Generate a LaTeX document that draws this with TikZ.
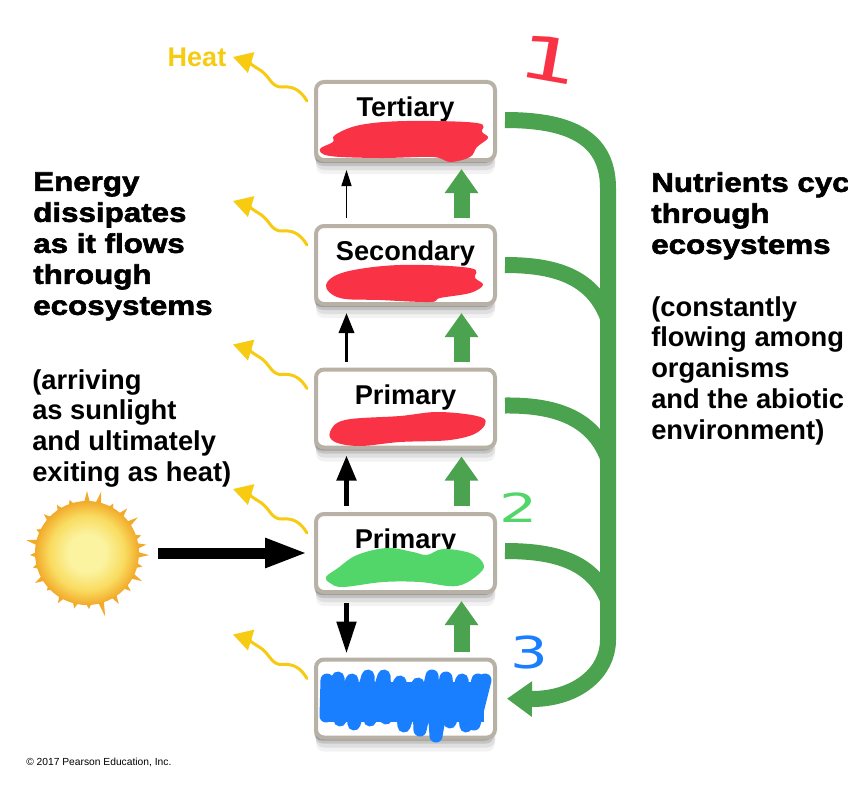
\documentclass[tikz,border=0pt]{standalone}
\usepackage{fontspec}
\setmainfont{Liberation Sans}
\newfontfamily\heavy[BoldFeatures={FakeStretch=1.16,FakeBold=2.2}]{Liberation Sans}
\newfontfamily\handfont{DejaVu Sans}
\usetikzlibrary{arrows.meta,shadows}
\newlength\unitpx
\setlength\unitpx{0.75pt}
\definecolor{boxline}{HTML}{B8B1A6}
\definecolor{nutrient}{HTML}{4BA34F}
\definecolor{heatcol}{HTML}{F6CB12}
\definecolor{redmark}{HTML}{FA3246}
\definecolor{greenmark}{HTML}{52D669}
\definecolor{bluemark}{HTML}{1A7FFF}
\definecolor{sunin}{HTML}{FBF3A0}
\definecolor{sunmid}{HTML}{F9DC60}
\definecolor{sunout}{HTML}{F2AA2A}
\pgfdeclareradialshading{sunshade}{\pgfpoint{0bp}{0bp}}{color(0bp)=(sunin);color(9bp)=(sunin);color(18bp)=(sunmid);color(25bp)=(sunout);color(50bp)=(sunout)}
\tikzset{
  box/.style={draw=boxline,fill=white,line width=4\unitpx,rounded corners=8\unitpx,
    minimum width=179\unitpx,inner sep=0pt,align=center,
    text height=34.5\unitpx,text depth=43.5\unitpx,
    font=\bfseries\fontsize{20.4}{24}\selectfont,
    drop shadow={shadow xshift=0pt,shadow yshift=-14\unitpx,fill=black,opacity=.05},
    drop shadow={shadow xshift=0pt,shadow yshift=-10\unitpx,fill=black,opacity=.08},
    drop shadow={shadow xshift=-1\unitpx,shadow yshift=-6\unitpx,fill=black,opacity=.12},
    drop shadow={shadow xshift=-2\unitpx,shadow yshift=-3\unitpx,fill=black,opacity=.2}},
  upgreen/.style={draw=nutrient,line width=16\unitpx,-{Triangle[length=18pt,width=24pt]},shorten <=6\unitpx,shorten >=7\unitpx},
  bus/.style={draw=nutrient,line width=16\unitpx},
  heatpath/.style={draw=heatcol,line width=3\unitpx,line cap=round,-{Triangle[length=14.25pt,width=15.75pt]}},
  blackbig/.style={draw=black,line width=5\unitpx,shorten <=6\unitpx,shorten >=6\unitpx},
  titletext/.style={anchor=north west,align=left,inner sep=0pt,font=\heavy\bfseries\fontsize{20.25}{23.25}\selectfont},
  subtext/.style={anchor=north west,align=left,inner sep=0pt,font=\bfseries\fontsize{20.5}{23.1}\selectfont},
  handnum/.style={font=\handfont\fontsize{#1}{#1}\selectfont,inner sep=0pt}
}
\begin{document}
\begin{tikzpicture}[x=\unitpx,y=-\unitpx]
\useasboundingbox (0,0) rectangle (860,799);
\fill[white] (0,0) rectangle (860,799);
\coordinate (joinA) at (608,318);
\coordinate (joinB) at (608,458);
\coordinate (joinC) at (608,600);
\node[box] (ter) at (405.5,121) {Tertiary};
\node[box] (sec) at (405.5,265) {Secondary};
\node[box] (pri) at (405.5,408.5) {Primary};
\node[box] (pro) at (405.5,553) {Primary};
\node[box] (bot) at (405.5,698.5) {};
% scribbles
\fill[redmark] plot[smooth cycle,tension=.6] coordinates {(320,149)(333,142)(335,135)(360,125)(407,121)(477,123)(482,132)(488,138)(477,147)(470,157)(450,162)(433,157)(380,158)(330,156)};
\fill[redmark] plot[smooth cycle,tension=.6] coordinates {(326,285)(345,272)(400,265)(470,268)(475,278)(483,285)(470,293)(440,298)(430,302)(380,300)(340,298)};
\fill[redmark] plot[smooth cycle,tension=.6] coordinates {(330,432)(345,420)(400,416)(440,412)(483,418)(478,432)(450,440)(400,442)(360,446)(335,442)};
\fill[greenmark] plot[smooth cycle,tension=.6] coordinates {(326,577)(338,568)(357,555)(387,548)(413,552)(427,555)(443,549)(470,553)(483,563)(480,573)(457,586)(420,582)(383,582)(343,587)(330,583)};
\fill[bluemark] (328,682) rectangle (484,722);
\draw[bluemark,line width=13\unitpx,line cap=round,line join=round]
  (327,680)--(326,716)--(338,678)--(340,720)--(352,680)--(354,724)--(368,676)--(370,720)--(384,676)--(386,718)--(400,682)--(404,726)--(418,684)--(420,730)--(432,676)--(436,736)--(446,678)--(450,722)--(462,680)--(466,726)--(478,680)--(474,724)--(485,680);
% nutrient flows
\draw[upgreen] ([xshift=56\unitpx]bot.north) -- ([xshift=56\unitpx]pro.south);
\draw[upgreen] ([xshift=56\unitpx]pro.north) -- ([xshift=56\unitpx]pri.south);
\draw[upgreen] ([xshift=56\unitpx]pri.north) -- ([xshift=56\unitpx]sec.south);
\draw[upgreen] ([xshift=56\unitpx]sec.north) -- ([xshift=56\unitpx]ter.south);
\draw[bus,-{Triangle[length=18.75pt,width=25.5pt]},shorten >=10\unitpx]
  ([xshift=8\unitpx,yshift=1\unitpx]ter.east) .. controls (565,120) and (608,135) .. (608,188)
  -- (608,640) .. controls (608,672) and (578,698) .. (534,699) -- (bot.east);
\draw[bus] ([xshift=8\unitpx]sec.east) .. controls (552,265) and (592,275) .. (joinA);
\draw[bus] ([xshift=8\unitpx,yshift=3\unitpx]pri.east) .. controls (552,405) and (592,416) .. (joinB);
\draw[bus] ([xshift=8\unitpx,yshift=2\unitpx]pro.east) .. controls (552,551) and (592,560) .. (joinC);
% energy flows
\draw[draw=black,line width=1.5\unitpx,-{Triangle[length=12pt,width=7.5pt]},shorten <=6\unitpx,shorten >=8\unitpx] ([xshift=-59\unitpx]sec.north) -- ([xshift=-59\unitpx]ter.south);
\draw[draw=black,line width=3.5\unitpx,-{Triangle[length=15pt,width=11.25pt]},shorten <=6\unitpx,shorten >=7\unitpx] ([xshift=-59\unitpx]pri.north) -- ([xshift=-59\unitpx]sec.south);
\draw[blackbig,-{Triangle[length=18.75pt,width=14.25pt]}] ([xshift=-59\unitpx]pro.north) -- ([xshift=-59\unitpx]pri.south);
\draw[blackbig,-{Triangle[length=24pt,width=14.25pt]},shorten <=9\unitpx,shorten >=4\unitpx] ([xshift=-59\unitpx]pro.south) -- ([xshift=-59\unitpx]bot.north);
% sun
\node[circle,minimum size=104\unitpx,inner sep=0pt] (sun) at (87,553) {};
\begin{scope}[shift={(87,553)}]
\foreach \a/\l in {2/62,14/57,27/62,41/58,58/60,74/66,88/56,103/57,120/58,137/55,150/60,165/56,178/57,192/62,205/56,222/58,238/57,252/56,270/62,283/63,298/56,312/60,325/62,342/57,352/60}
  \fill[sunout] (\a-3.5:50) -- (\a:\l) -- (\a+3.5:50) -- cycle;
\shade[shading=sunshade] (0,0) circle (52);
\end{scope}
\draw[draw=black,line width=11\unitpx,-{Triangle[length=32.25pt,width=20.25pt]},shorten <=19\unitpx,shorten >=6\unitpx] (sun.east) -- (pro.west);
% heat
\foreach \b in {ter,sec,pri,pro,bot}{
  \begin{scope}[shift={(\b.north west)}]
  \draw[heatpath] (-7,21) .. controls (-13,11) and (-20,6) .. (-31,7)
     .. controls (-43,8) and (-44,-4) .. (-54,-10) .. controls (-62,-15) and (-68,-19) .. (-81,-23);
  \end{scope}
}
\node[font=\bfseries\fontsize{20.25}{24}\selectfont,text=heatcol,anchor=base,inner sep=0pt] (heat) at (197,67) {Heat};
% texts
\node[titletext] (t1) at (33,172) {Energy\\dissipates\\as it flows\\through\\ecosystems};
\node[subtext] (t2) at (32,369) {(arriving\\as sunlight\\and ultimately\\exiting as heat)};
\node[titletext] (t3) at (651,172) {Nutrients cyc\\through\\ecosystems};
\node[subtext] (t4) at (651,296) {(constantly\\flowing among\\organisms\\and the abiotic\\environment)};
\fill[white] (848,0) rectangle (860,799);
\node[font=\fontsize{7.7}{9}\selectfont,anchor=west,inner sep=0pt] (copy) at (26,762) {© 2017 Pearson Education, Inc.};
% hand-written numbers
\node[handnum=45,text=redmark,rotate=-10,xscale=1.6] (n1) at (549,59) {1};
\node[handnum=30,text=greenmark,xscale=1.5] (n2) at (519,508) {2};
\node[handnum=33,text=bluemark,xscale=1.35] (n3) at (529,652) {3};
\end{tikzpicture}
\end{document}
